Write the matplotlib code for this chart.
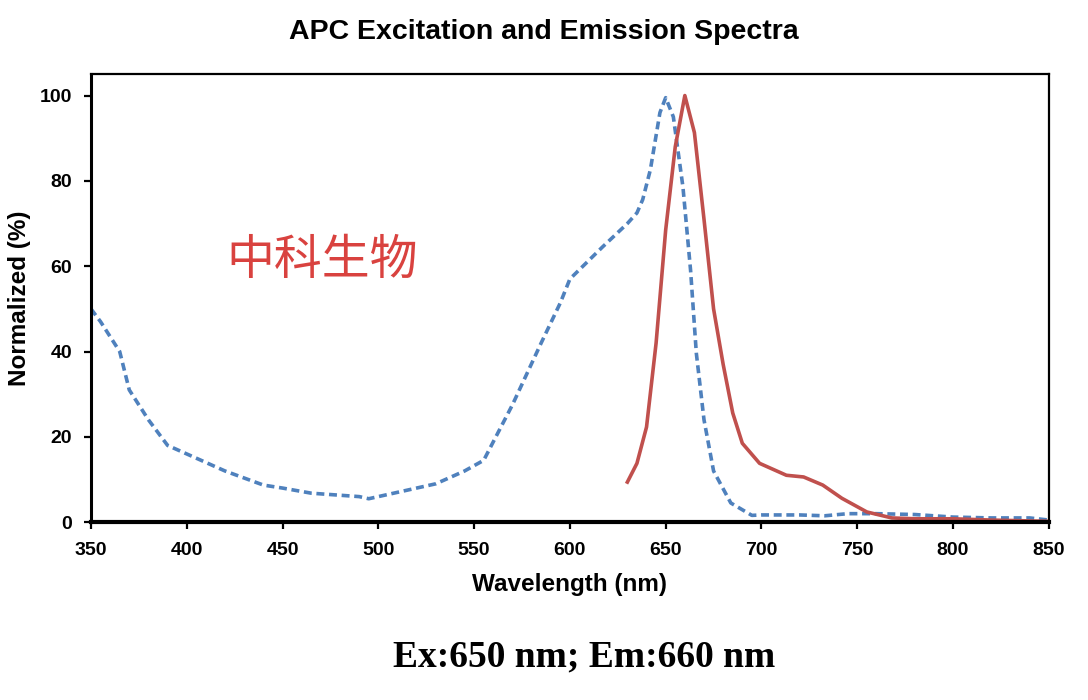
import matplotlib
matplotlib.use('Agg')
import matplotlib.pyplot as plt

# Excitation spectrum (blue dashed)
ex_nm = [350, 355, 365, 370, 380, 390, 400, 420, 440, 450, 465, 490, 495, 510,
         530, 545, 555, 570, 585, 595, 600, 617, 630, 635, 638, 642, 647, 650,
         654, 659, 663, 666, 670, 675, 684, 695, 700, 720, 733, 745, 760, 780,
         800, 820, 840, 850]
ex_val = [50, 47, 40, 31, 24, 18, 16, 12, 8.7, 8, 6.8, 6, 5.5, 7,
          9, 12, 14.5, 27.5, 42, 51.4, 57, 64.5, 70, 72.5, 75.6, 82.6, 96, 99.5,
          95, 78.6, 59, 39.6, 24, 12, 4.5, 1.6, 1.7, 1.7, 1.5, 2, 2, 1.8,
          1.2, 1, 1, 0.5]

# Emission spectrum (red solid)
em_nm = [630, 635, 640, 645, 650, 655, 660, 665, 670, 675, 680, 685, 690, 699,
         713, 722, 732, 742, 755, 768, 780, 800, 820, 850]
em_val = [9.4, 13.8, 22.3, 42, 68.5, 88, 100, 91.3, 71, 50, 37, 25.6, 18.5, 13.8,
          11, 10.6, 8.7, 5.6, 2.4, 1.0, 0.8, 0.8, 0.5, 0.2]

x_ticks = [350, 400, 450, 500, 550, 600, 650, 700, 750, 800, 850]
y_ticks = [0, 20, 40, 60, 80, 100]

plt.rcParams['font.family'] = ['Liberation Sans', 'DejaVu Sans']

fig = plt.figure(figsize=(10.88, 7.0), dpi=100)
ax = fig.add_axes([0.0836, 0.254, 0.8804, 0.640])

ax.plot(ex_nm, ex_val, color='#4f81bd', lw=2.6, linestyle=(0, (2.2, 1.3)))
ax.plot(em_nm, em_val, color='#c0504d', lw=2.6)

ax.set_xlim(350, 850)
ax.set_ylim(0, 105)
ax.set_xticks(x_ticks)
ax.set_yticks(y_ticks)
ax.tick_params(direction='out', length=5, width=1.6, labelsize=14)
ax.tick_params(axis='x', pad=9)
ax.tick_params(axis='y', pad=8.5)
for lab in ax.get_xticklabels() + ax.get_yticklabels():
    lab.set_fontweight('bold')
for s in ax.spines.values():
    s.set_linewidth(1.6)
ax.spines['bottom'].set_linewidth(3)
ax.spines['left'].set_linewidth(2.2)

ax.set_xlabel('Wavelength (nm)', fontsize=17.5, fontweight='bold', labelpad=10)
ax.set_ylabel('Normalized (%)', fontsize=17.5, fontweight='bold', labelpad=6)

fig.text(0.5, 0.954, 'APC Excitation and Emission Spectra', ha='center', va='center',
         fontsize=20.5, fontweight='bold')
fig.text(0.537, 0.062, 'Ex:650 nm; Em:660 nm', ha='center', va='center',
         fontsize=27, fontweight='bold', family='Liberation Serif')

ax.text(0.241, 0.585, '中科生物', transform=ax.transAxes, ha='center', va='center',
        fontsize=34.5, color='#d9423f', family=['Noto Sans CJK SC', 'DejaVu Sans'])

fig.savefig('out.png', dpi=100)
